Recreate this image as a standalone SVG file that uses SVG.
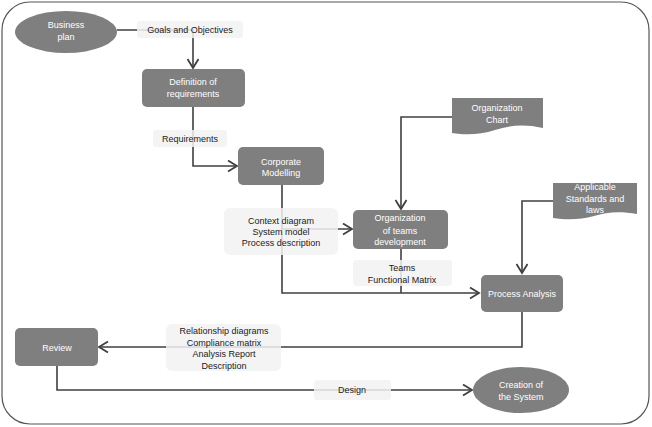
<svg xmlns="http://www.w3.org/2000/svg" width="652" height="427" viewBox="0 0 652 427">
<defs>
<style>
.node{fill:#7f7f7f;}
.nt{font-family:"Liberation Sans",Arial,sans-serif;font-size:9px;fill:#ffffff;text-anchor:middle;}
.lt{font-family:"Liberation Sans",Arial,sans-serif;font-size:9px;fill:#1a1a1a;text-anchor:middle;}
.lbl{fill:#f2f2f2;fill-opacity:0.85;}
.con{fill:none;stroke:#404040;stroke-width:1.6;marker-end:url(#arr);}
.con2{fill:none;stroke:#404040;stroke-width:1.6;}
</style>
<marker id="arr" markerUnits="userSpaceOnUse" markerWidth="14" markerHeight="14" refX="10" refY="6" orient="auto">
<path d="M1,0.5 L10,6 L1,11.5" fill="none" stroke="#404040" stroke-width="1.8"/>
</marker>
</defs>
<rect x="2" y="2" width="647" height="422" rx="28" ry="28" fill="#ffffff" stroke="#555555" stroke-width="1.2"/>
<g id="connectors">
<path class="con" d="M117,30 H193 V68"/>
<path class="con" d="M193,107 V166 H237"/>
<path class="con" d="M282,185 V293 H479"/>
<path class="con" d="M282,229 H352"/>
<path class="con" d="M452,117 H401 V209"/>
<path class="con2" d="M401,249 V293"/>
<path class="con" d="M553,201 H522 V273"/>
<path class="con" d="M522,312 V347 H99"/>
<path class="con" d="M57,366 V390 H472"/>
</g>
<g id="label-goals"><rect class="lbl" x="137" y="21" width="106" height="17" rx="3"/><text class="lt" x="190" y="33">Goals and Objectives</text></g>
<g id="label-requirements"><rect class="lbl" x="153" y="130" width="74" height="17" rx="3"/><text class="lt" x="190" y="142">Requirements</text></g>
<g id="label-context"><rect class="lbl" x="224" y="208" width="114" height="47" rx="6"/><text class="lt" x="281" y="224">Context diagram</text><text class="lt" x="281" y="235">System model</text><text class="lt" x="281" y="246">Process description</text></g>
<g id="label-teams"><rect class="lbl" x="353" y="260" width="99" height="26" rx="4"/><text class="lt" x="402" y="271">Teams</text><text class="lt" x="402" y="283">Functional Matrix</text></g>
<g id="label-relationship"><rect class="lbl" x="166" y="324" width="115" height="47" rx="6"/><text class="lt" x="224" y="334">Relationship diagrams</text><text class="lt" x="224" y="346">Compliance matrix</text><text class="lt" x="224" y="357">Analysis Report</text><text class="lt" x="224" y="369">Description</text></g>
<g id="label-design"><rect class="lbl" x="314" y="380" width="77" height="20" rx="3"/><text class="lt" x="352" y="393">Design</text></g>
<g id="business-plan"><ellipse class="node" cx="66" cy="32" rx="51" ry="21"/><text class="nt" x="66" y="28">Business</text><text class="nt" x="66" y="40">plan</text></g>
<g id="definition"><rect class="node" x="142" y="69" width="103" height="38" rx="5"/><text class="nt" x="193" y="85">Definition of</text><text class="nt" x="193" y="97">requirements</text></g>
<g id="corporate"><rect class="node" x="238" y="147" width="86" height="38" rx="5"/><text class="nt" x="281" y="165">Corporate</text><text class="nt" x="281" y="176">Modelling</text></g>
<g id="organization"><rect class="node" x="353" y="210" width="95" height="39" rx="5"/><text class="nt" x="400" y="221">Organization</text><text class="nt" x="400" y="234">of teams</text><text class="nt" x="400" y="245">development</text></g>
<g id="org-chart"><path class="node" d="M452,98 H543 V128 C525,124 510,125 495,130 C480,135 465,135 452,133 Z"/><text class="nt" x="497" y="111">Organization</text><text class="nt" x="497" y="123">Chart</text></g>
<g id="standards"><path class="node" d="M553,183 H637 V214 C620,211 607,212 594,216 C580,220 566,220 553,218 Z"/><text class="nt" x="595" y="190">Applicable</text><text class="nt" x="595" y="202">Standards and</text><text class="nt" x="595" y="213">laws</text></g>
<g id="process-analysis"><rect class="node" x="481" y="275" width="82" height="37" rx="5"/><text class="nt" x="522" y="297">Process Analysis</text></g>
<g id="review"><rect class="node" x="15" y="328" width="83" height="38" rx="5"/><text class="nt" x="57" y="351">Review</text></g>
<g id="creation"><ellipse class="node" cx="521" cy="390" rx="48" ry="23"/><text class="nt" x="521" y="388">Creation of</text><text class="nt" x="521" y="400">the System</text></g>
</svg>
